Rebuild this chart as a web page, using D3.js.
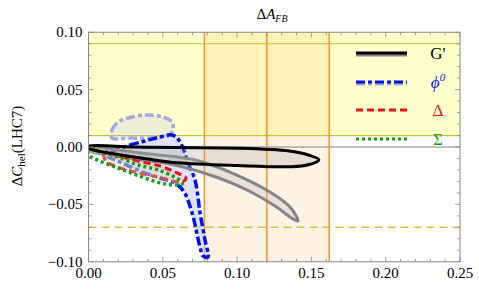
<!DOCTYPE html>
<html>
<head>
<meta charset="utf-8">
<script src="https://cdn.jsdelivr.net/npm/d3@7"></script>
<style>
  body { margin: 0; background: #fff; }
</style>
</head>
<body>
<div id="chart"></div>
<script>
// data (x = dA_FB, y = dC_hel)
let xTicks = [0.0, 0.05, 0.1, 0.15, 0.2, 0.25];
let yTicks = [-0.1, -0.05, 0.0, 0.05, 0.1];
let yellowBand = [0.01, 0.1];
let yellowLine = 0.09;
let dashedLevel = -0.07;
let orangeLines = [0.078, 0.12, 0.162];

let gBlack = [[0, 0.0005], [0.03, 0.0], [0.06, -0.0005], [0.1, -0.001], [0.135, -0.0035],
  [0.148, -0.007], [0.155, -0.011], [0.148, -0.0155], [0.135, -0.0172], [0.1, -0.0162],
  [0.06, -0.0138], [0.04, -0.0105], [0.02, -0.0065], [0.005, -0.003], [0, -0.0012]];
let gGray = [[0, -0.0009], [0.0347, -0.0052], [0.0717, -0.0113], [0.0952, -0.0218],
  [0.1221, -0.0392], [0.1356, -0.0523], [0.141, -0.0645], [0.1376, -0.0627],
  [0.1255, -0.0514], [0.1053, -0.0366], [0.0818, -0.0244], [0.0549, -0.0148],
  [0.0212, -0.0087], [0.001, -0.0035]];
let phiLight = [[0.0158, 0.0078], [0.0158, 0.0148], [0.0199, 0.0218], [0.0293, 0.0261],
  [0.0401, 0.0279], [0.0501, 0.0261], [0.0562, 0.0218], [0.0568, 0.0148],
  [0.0535, 0.0096], [0.0414, 0.0078], [0.0279, 0.0078]];
let phiDark = [[0.0178, -0.0026], [0.0279, 0.0017], [0.038, 0.0052], [0.0481, 0.0087],
  [0.0562, 0.0105], [0.0602, 0.007], [0.0636, -0.0009], [0.067, -0.0139],
  [0.0717, -0.0288], [0.0751, -0.0575], [0.0784, -0.081], [0.0804, -0.0959],
  [0.0771, -0.095], [0.075, -0.0871], [0.0697, -0.0575], [0.0643, -0.0392],
  [0.0582, -0.0314], [0.0481, -0.027], [0.0347, -0.0209], [0.0212, -0.0131],
  [0.0111, -0.0064], [0.0131, -0.0035]];
let delta = [[0.0104, -0.0061], [0.0226, -0.0087], [0.036, -0.0131], [0.0481, -0.0166],
  [0.0582, -0.0218], [0.0656, -0.027], [0.0629, -0.0305], [0.0495, -0.027],
  [0.0313, -0.0218], [0.0178, -0.0166], [0.0118, -0.0122]];
let sigma = [[0, 0], [0.0064, -0.0035], [0.0199, -0.0087], [0.0333, -0.0157],
  [0.0468, -0.02], [0.0602, -0.0279], [0.063, -0.0322], [0.0515, -0.0322],
  [0.036, -0.0261], [0.0199, -0.0183], [0.0044, -0.0105], [0, -0.007]];

let svgWidth = 479;
let svgHeight = 289;
let margin = { top: 32.25, right: 19, bottom: 27.25, left: 88.5 };
let width = svgWidth - margin.left - margin.right;
let height = svgHeight - margin.top - margin.bottom;
let serif = "'Liberation Serif', 'Times New Roman', 'DejaVu Serif', serif";

let svg = d3.select("#chart").append("svg")
  .attr("width", svgWidth).attr("height", svgHeight)
  .attr("font-family", serif);

let chartGroup = svg.append("g")
  .attr("transform", `translate(${margin.left},${margin.top})`);

let x = d3.scaleLinear().domain([0, 0.25]).range([0, width]);
let y = d3.scaleLinear().domain([-0.1, 0.1]).range([height, 0]);

svg.append("defs").append("clipPath").attr("id", "plotClip")
  .append("rect").attr("width", width).attr("height", height);

let plot = chartGroup.append("g").attr("clip-path", "url(#plotClip)");

// background bands
plot.append("rect")
  .attr("x", 0).attr("width", width)
  .attr("y", y(yellowBand[1])).attr("height", y(yellowBand[0]) - y(yellowBand[1]))
  .attr("fill", "#ffffcc");
plot.append("rect")
  .attr("x", x(orangeLines[0])).attr("width", x(orangeLines[2]) - x(orangeLines[0]))
  .attr("y", 0).attr("height", height)
  .attr("fill", "#f9a94b").attr("opacity", 0.15);

[yellowLine, yellowBand[0]].forEach(function (v) {
  plot.append("line")
    .attr("x1", 0).attr("x2", width).attr("y1", y(v)).attr("y2", y(v))
    .attr("stroke", "#c9c13a").attr("stroke-width", 1.2);
});
plot.append("line")
  .attr("x1", 0).attr("x2", width).attr("y1", y(dashedLevel)).attr("y2", y(dashedLevel))
  .attr("stroke", "#cfc43c").attr("stroke-width", 1.5).attr("stroke-dasharray", "8,5");
plot.append("line")
  .attr("x1", 0).attr("x2", width).attr("y1", y(0)).attr("y2", y(0))
  .attr("stroke", "#666").attr("stroke-width", 0.8);

plot.selectAll(".vline").data(orangeLines).enter().append("line")
  .attr("x1", d => x(d)).attr("x2", d => x(d)).attr("y1", 0).attr("y2", height)
  .attr("stroke", "#f7931e").attr("stroke-width", 1.5);

// contours
let contour = d3.line()
  .x(d => x(d[0])).y(d => y(d[1]))
  .curve(d3.curveCatmullRomClosed.alpha(0.5));

function drawRegion(pts, fill, fillOp, stroke, sw, dash) {
  plot.append("path").attr("d", contour(pts))
    .attr("fill", fill).attr("fill-opacity", fillOp)
    .attr("stroke", stroke).attr("stroke-width", sw)
    .attr("stroke-dasharray", dash)
    .attr("stroke-linejoin", "round");
}

drawRegion(phiLight, "#b8bdf0", 0.25, "#a3aae0", 3.5, "9,3,4,3");
drawRegion(phiDark, "#c5caf6", 0.55, "#0010ee", 3.5, "9,3,4,3");
drawRegion(gGray, "#bbbbbb", 0.3, "#858585", 3, null);
drawRegion(delta, "#f5c8c0", 0.35, "#ee1111", 3, "7,4");
drawRegion(sigma, "#d0ecd0", 0.3, "#14a014", 3.5, "3,3");
drawRegion(gBlack, "#b0a8a0", 0.3, "#000", 3, null);

// frame and ticks
chartGroup.append("rect").attr("width", width).attr("height", height)
  .attr("fill", "none").attr("stroke", "#888").attr("stroke-width", 1);

let xMinor = d3.range(0, 0.2501, 0.01);
let yMinor = d3.range(-0.1, 0.1001, 0.01);
function isMajor(v) { return Math.abs(v / 0.05 - Math.round(v / 0.05)) < 1e-6; }

let ticks = chartGroup.append("g").attr("stroke", "#888").attr("stroke-width", 0.8);
xMinor.forEach(function (v) {
  let len = isMajor(v) ? 5 : 3;
  ticks.append("line").attr("x1", x(v)).attr("x2", x(v)).attr("y1", height).attr("y2", height - len);
  ticks.append("line").attr("x1", x(v)).attr("x2", x(v)).attr("y1", 0).attr("y2", len);
});
yMinor.forEach(function (v) {
  let len = isMajor(v) ? 5 : 3;
  ticks.append("line").attr("y1", y(v)).attr("y2", y(v)).attr("x1", 0).attr("x2", len);
  ticks.append("line").attr("y1", y(v)).attr("y2", y(v)).attr("x1", width).attr("x2", width - len);
});

chartGroup.selectAll(".xlab").data(xTicks).enter().append("text")
  .attr("x", d => x(d)).attr("y", height + 16)
  .attr("text-anchor", "middle").attr("font-size", "15px")
  .text(d => d.toFixed(2));
chartGroup.selectAll(".ylab").data(yTicks).enter().append("text")
  .attr("x", -6).attr("y", d => y(d) + 5)
  .attr("text-anchor", "end").attr("font-size", "15px")
  .text(d => (d < 0 ? "\u2212" : "") + Math.abs(d).toFixed(2));

// title and axis label
let title = svg.append("text").attr("x", 272).attr("y", 19)
  .attr("text-anchor", "middle").attr("font-size", "15px");
title.append("tspan").text("\u0394");
title.append("tspan").attr("font-style", "italic").text("A");
title.append("tspan").attr("font-style", "italic").attr("font-size", "10px").attr("dy", 3).text("FB");

let ylab = svg.append("text")
  .attr("transform", "translate(22,146) rotate(-90)")
  .attr("text-anchor", "middle").attr("font-size", "15px");
ylab.append("tspan").text("\u0394");
ylab.append("tspan").attr("font-style", "italic").text("C");
ylab.append("tspan").attr("font-size", "11px").attr("dy", 3).text("hel");
ylab.append("tspan").attr("dy", -3).text("(LHC7)");

// legend
let legendItems = [
  { name: "G'", color: "#000", under: "#858585", dash: null, y: 53, italic: false },
  { name: "\u03d5", color: "#0010ee", under: "#a3aae0", dash: "9,3,4,3", y: 82, italic: true },
  { name: "\u0394", color: "#ee1111", under: null, dash: "7,4", y: 110, italic: false },
  { name: "\u03a3", color: "#14a014", under: null, dash: "3,3", y: 139, italic: false }
];
let legend = svg.append("g");
legendItems.forEach(function (d) {
  if (d.under) {
    legend.append("line").attr("x1", 356).attr("x2", 407).attr("y1", d.y + 2).attr("y2", d.y + 2)
      .attr("stroke", d.under).attr("stroke-width", 3).attr("stroke-dasharray", d.dash);
  }
  legend.append("line").attr("x1", 356).attr("x2", 407).attr("y1", d.y).attr("y2", d.y)
    .attr("stroke", d.color).attr("stroke-width", 3).attr("stroke-dasharray", d.dash);
  let t = legend.append("text").attr("x", 438).attr("y", d.y + 6)
    .attr("text-anchor", "middle").attr("font-size", "17px")
    .attr("fill", d.name === "G'" ? "#000" : d.color)
    .attr("font-style", d.italic ? "italic" : "normal")
    .text(d.name);
  if (d.italic) {
    t.append("tspan").attr("font-size", "11px").attr("dy", -7).text("0");
  }
});
</script>
</body>
</html>
